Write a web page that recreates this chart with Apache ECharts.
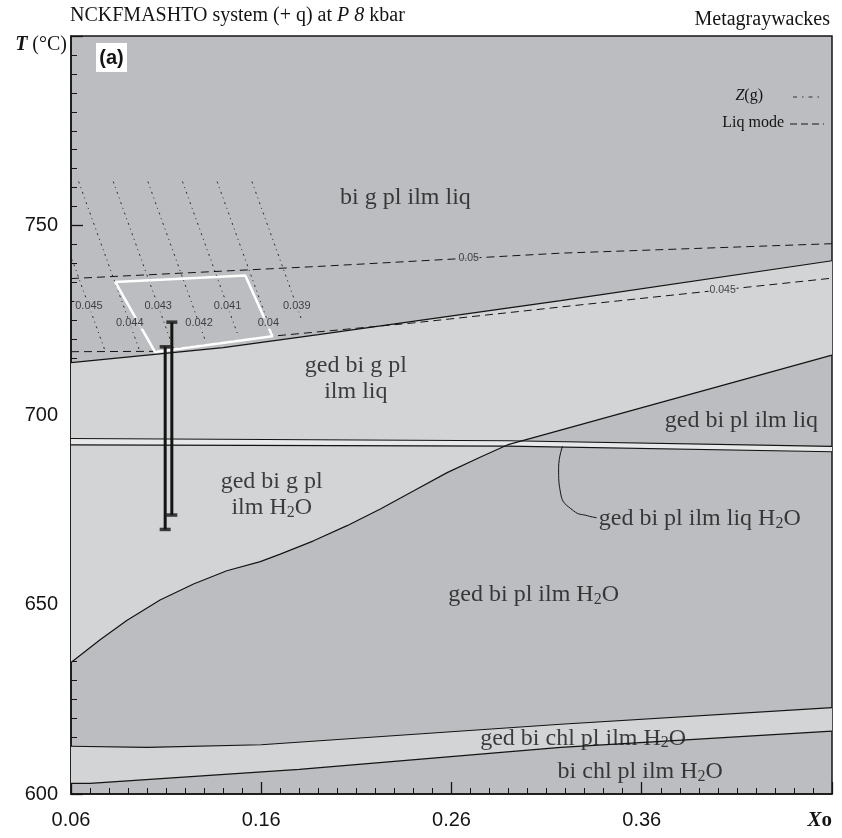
<!DOCTYPE html>
<html><head><meta charset="utf-8">
<script src="https://cdn.jsdelivr.net/npm/echarts@6/dist/echarts.min.js"></script>
<style>html,body{margin:0;padding:0;background:#fff}#c{width:842px;height:838px}</style>
</head><body><div id="c"></div>
<script>
// ---------- data ----------
const xTickValues = [0.06, 0.16, 0.26, 0.36, 0.46];
const xTickLabels = ['0.06', '0.16', '0.26', '0.36', 'Xo'];
const yTickLabels = [600, 650, 700, 750];

const topBoundary = [[0.06,713.8],[0.14,717.8],[0.19,721.2],[0.3174,730.2],[0.46,740.7]];
const gedCurve = [[0.06,634.7],[0.0753,640.7],[0.0893,645.8],[0.1068,651.2],[0.1244,655.4],[0.1419,658.9],
  [0.1595,661.3],[0.1700,663.3],[0.1875,666.8],[0.2051,670.8],[0.2226,675.2],[0.2402,680.0],[0.2577,684.8],
  [0.2753,688.9],[0.2893,692.1]];
const diagonal = [[0.2893,692.1],[0.46,715.8]];
const bandUpper = [[0.06,693.8],[0.29,693.2],[0.46,691.7]];
const bandLower = [[0.06,692.1],[0.29,691.8],[0.46,690.3]];
const chlUpper = [[0.06,612.6],[0.10,612.3],[0.16,613.0],[0.3174,618.4],[0.46,622.8]];
const chlLower = [[0.06,602.8],[0.07,602.8],[0.18,606.5],[0.3174,612.3],[0.46,616.6]];
const liq050 = [[0.06,736.0],[0.19,739.2],[0.3174,742.7],[0.46,745.2]];
const liq045 = [[0.06,716.7],[0.1042,716.8],[0.1659,720.8],[0.24,724.3],[0.3174,728.5],[0.46,736.1]];
const liqLabels = [['0.05', 0.269, 'dark'], ['0.045', 0.4025, 'light']];
const leader = [[0.3184,691.8],[0.3163,686.1],[0.3174,679.2],[0.3242,674.7],[0.3316,673.4],[0.3363,672.9]];
const whiteBox = [[0.0832,735.1],[0.1516,736.8],[0.1659,720.8],[0.1042,716.6],[0.0832,735.1]];

const zValues = ['0.045','0.044','0.043','0.042','0.041','0.04','0.039'];
const zTopX = [0.0458,0.0640,0.0822,0.1004,0.1186,0.1368,0.1551];
const zTopT = 761.6;
const zBotX = [0.0780,0.0962,0.1144,0.1307,0.1476,0.1656,0.1811];
const zBotT = [716.8,716.8,716.8,719.5,721.3,721.6,725.3];
const zLabelT = [728.7,724.2,728.7,724.2,728.7,724.2,728.7];

const errX = [0.1095, 0.113];
const errLo = [669.8, 673.6];
const errHi = [718.0, 724.5];

const regionLabels = [
  ['bi g pl ilm liq', 0.2358, 757.4, 'center'],
  ['ged bi g pl\nilm liq', 0.2097, 709.7, 'center'],
  ['ged bi pl ilm liq', 0.4124, 698.4, 'center'],
  ['ged bi g pl\nilm H2O', 0.1655, 678.9, 'center'],
  ['ged bi pl ilm liq H2O', 0.3374, 672.6, 'left'],
  ['ged bi pl ilm H2O', 0.3032, 652.6, 'center'],
  ['ged bi chl pl ilm H2O', 0.3292, 614.7, 'center'],
  ['bi chl pl ilm H2O', 0.3592, 605.8, 'center']
];

// ---------- style ----------
const DARK = '#bcbdc0', LIGHT = '#d3d4d6', BAND = '#e7e8e9', INK = '#141414';
const SERIF = '"Liberation Serif","Times New Roman",serif';
const SANS = '"Liberation Sans",Arial,sans-serif';

function interpT(arr, x) {
  for (let i = 0; i < arr.length - 1; i++) {
    const a = arr[i], b = arr[i + 1];
    if (x >= a[0] && x <= b[0]) return a[1] + (b[1] - a[1]) * (x - a[0]) / (b[0] - a[0]);
  }
  return arr[arr.length - 1][1];
}
function polySeries(pts, fill, z) {
  return {
    type: 'custom', coordinateSystem: 'cartesian2d', silent: true, z: z, animation: false,
    data: [[pts[0][0], pts[0][1]]],
    renderItem: (params, api) => ({
      type: 'polygon',
      shape: { points: pts.map(p => api.coord(p)) },
      style: { fill: fill, stroke: null }
    })
  };
}
function lineSeries(data, ls, z, smooth) {
  return {
    type: 'line', data: data, symbol: 'none', silent: true, z: z || 4, clip: true, animation: false,
    smooth: smooth || false,
    lineStyle: Object.assign({ color: INK, width: 1.2 }, ls || {})
  };
}
function toRich(str) {
  return str.split('\n').map(l => {
    const i = l.indexOf('H2O');
    if (i < 0) return '{t|' + l + '}';
    const pre = l.slice(0, i), post = l.slice(i + 3);
    return (pre ? '{t|' + pre + '}' : '') + '{t|H}{s|2}{t|O}' + (post ? '{t|' + post + '}' : '');
  }).join('\n');
}

const series = [];
// region fills
const lightRegion = topBoundary.concat(diagonal.slice().reverse(), gedCurve.slice().reverse());
series.push(polySeries(lightRegion, LIGHT, 1));
series.push(polySeries(bandUpper.concat(bandLower.slice().reverse()), BAND, 2));
series.push(polySeries(chlUpper.concat(chlLower.slice().reverse()), LIGHT, 1));
// boundaries
[topBoundary, gedCurve, diagonal, bandUpper, bandLower, chlUpper, chlLower].forEach(d => series.push(lineSeries(d, {}, 4)));
series.push(lineSeries(leader, { width: 1 }, 4, 0.5));
// liq mode dashed lines
series.push(lineSeries(liq050, { type: [8, 5], width: 1 }, 3));
series.push(lineSeries(liq045, { type: [8, 5], width: 1 }, 3));
// Z(g) lines
zValues.forEach((v, k) => series.push(lineSeries([[zTopX[k], zTopT], [zBotX[k], zBotT[k]]], { type: [2, 4, 1, 4], width: 1, color: '#2a2a2a' }, 3)));
// white box
series.push(lineSeries(whiteBox, { color: '#ffffff', width: 2.6 }, 5));

// small numeric labels
const smallLabelData = [];
zValues.forEach((v, k) => {
  const t = zLabelT[k];
  const x = zTopX[k] + (zBotX[k] - zTopX[k]) * (t - zTopT) / (zBotT[k] - zTopT);
  smallLabelData.push({ value: [x, t], label: { formatter: v, backgroundColor: DARK } });
});
liqLabels.forEach(([v, x, reg]) => {
  smallLabelData.push({ value: [x, interpT(reg === 'dark' ? liq050 : liq045, x)],
    label: { formatter: v, fontSize: 10.5, backgroundColor: reg === 'dark' ? DARK : LIGHT } });
});
series.push({
  type: 'scatter', data: smallLabelData, symbolSize: 0, silent: true, z: 6, animation: false,
  label: { show: true, position: 'inside', fontFamily: SANS, fontSize: 11, color: '#1e1e1e', padding: [0, 1] }
});

// region labels
series.push({
  type: 'scatter', symbolSize: 0, silent: true, z: 7, animation: false,
  data: regionLabels.map(([txt, x, t, al]) => ({
    value: [x, t],
    label: { formatter: toRich(txt), align: al }
  })),
  label: {
    show: true, position: 'inside', verticalAlign: 'middle',
    rich: {
      t: { fontFamily: SERIF, fontSize: 24, color: INK, lineHeight: 26, verticalAlign: 'middle' },
      s: { fontFamily: SERIF, fontSize: 16, color: INK, lineHeight: 14, verticalAlign: 'bottom' }
    }
  }
});

// error bars
errX.forEach((x, i) => series.push(lineSeries([[x, errLo[i]], [x, errHi[i]]], { width: 3 }, 8)));
const caps = [];
errX.forEach((x, i) => { caps.push([x, errLo[i]]); caps.push([x, errHi[i]]); });
series.push({ type: 'scatter', data: caps, symbol: 'rect', symbolSize: [11, 3.5], silent: true, z: 8,
  itemStyle: { color: INK }, animation: false });

const chart = echarts.init(document.getElementById('c'), null, { renderer: 'canvas' });
chart.setOption({
  animation: false,
  backgroundColor: '#ffffff',
  grid: { left: 71, right: 10, top: 36, bottom: 44, show: true, backgroundColor: DARK,
    borderColor: INK, borderWidth: 1.5, containLabel: false, outerBoundsMode: 'none' },
  xAxis: {
    type: 'value', min: 0.06, max: 0.46, interval: 0.1,
    axisLine: { show: true, lineStyle: { color: INK, width: 1.5 } },
    axisTick: { show: true, inside: true, length: 12, lineStyle: { color: INK, width: 1.3 } },
    minorTick: { show: true, splitNumber: 10, length: 6, lineStyle: { color: INK, width: 1 } },
    splitLine: { show: false },
    axisLabel: {
      margin: 16, fontFamily: SANS, fontSize: 20, color: INK, showMaxLabel: true, showMinLabel: true,
      alignMaxLabel: 'right',
      formatter: v => {
        let best = 0;
        xTickValues.forEach((tv, i) => { if (Math.abs(tv - v) < Math.abs(xTickValues[best] - v)) best = i; });
        const s = xTickLabels[best];
        return s === 'Xo' ? '{xi|X}{xb|o}' : s;
      },
      rich: {
        xi: { fontFamily: SERIF, fontSize: 21, fontWeight: 'bold', fontStyle: 'italic', color: INK },
        xb: { fontFamily: SERIF, fontSize: 21, fontWeight: 'bold', color: INK }
      }
    }
  },
  yAxis: {
    type: 'value', min: 600, max: 800, interval: 50,
    name: '{b|T} (°C)', nameLocation: 'end', nameGap: -9,
    nameTextStyle: { fontFamily: SERIF, fontSize: 20, color: INK, align: 'right', verticalAlign: 'middle',
      padding: [0, 4, 0, 0],
      rich: { b: { fontFamily: SERIF, fontSize: 20, fontWeight: 'bold', fontStyle: 'italic', color: INK } } },
    axisLine: { show: true, lineStyle: { color: INK, width: 1.5 } },
    axisTick: { show: true, inside: true, length: 12, lineStyle: { color: INK, width: 1.3 } },
    minorTick: { show: true, splitNumber: 10, length: 6, lineStyle: { color: INK, width: 1 } },
    splitLine: { show: false },
    axisLabel: { margin: 13, fontFamily: SANS, fontSize: 20, color: INK,
      formatter: v => yTickLabels.includes(Math.round(v)) ? String(Math.round(v)) : '' }
  },
  graphic: [
    { type: 'text', left: 70, top: 6, z: 10, style: {
      text: 'NCKFMASHTO system (+ q) at {i|P 8} kbar', fontFamily: SERIF, fontSize: 20, fill: INK,
      rich: { i: { fontFamily: SERIF, fontSize: 20, fontStyle: 'italic', fill: INK } } } },
    { type: 'text', right: 12, top: 10, z: 10, style: {
      text: 'Metagraywackes', fontFamily: SERIF, fontSize: 20, fill: INK } },
    { type: 'rect', shape: { x: 96, y: 43, width: 31, height: 29 }, style: { fill: '#ffffff' }, z: 10 },
    { type: 'text', x: 111.5, y: 58, z: 11, style: { text: '(a)', fontFamily: SANS, fontSize: 20,
      fontWeight: 'bold', fill: INK, align: 'center', verticalAlign: 'middle' } },
    { type: 'text', x: 763, y: 96, z: 10, style: { text: '{i|Z}(g)', fontFamily: SERIF, fontSize: 16, fill: INK,
      align: 'right', verticalAlign: 'middle',
      rich: { i: { fontFamily: SERIF, fontSize: 16, fontStyle: 'italic', fill: INK } } } },
    { type: 'line', z: 10, shape: { x1: 793, y1: 97, x2: 824, y2: 97 },
      style: { stroke: '#333', lineWidth: 1, lineDash: [4, 5, 1.5, 5] } },
    { type: 'text', x: 784, y: 123, z: 10, style: { text: 'Liq mode', fontFamily: SERIF, fontSize: 16, fill: INK,
      align: 'right', verticalAlign: 'middle' } },
    { type: 'line', z: 10, shape: { x1: 790, y1: 124, x2: 824, y2: 124 },
      style: { stroke: INK, lineWidth: 1, lineDash: [7, 4] } }
  ],
  series: series
});
</script>
</body></html>
